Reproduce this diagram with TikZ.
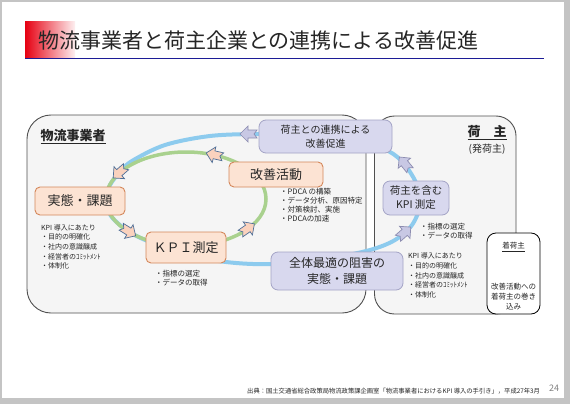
\documentclass[tikz,border=0pt]{standalone}
\usepackage{fontspec}
\setmainfont{Noto Sans CJK JP}
\definecolor{peachF}{HTML}{FCE3D3}
\definecolor{peachD}{HTML}{D4875A}
\definecolor{lavF}{HTML}{D8D8EE}
\definecolor{lavD}{HTML}{A4A4C6}
\definecolor{arrF}{HTML}{FAD2BE}
\definecolor{arrD}{HTML}{4F6F98}
\definecolor{barrF}{HTML}{C8C8E4}
\definecolor{barrD}{HTML}{8C8CB0}
\definecolor{greenL}{HTML}{A9D18E}
\definecolor{blueL}{HTML}{8DCBEE}
\definecolor{panelF}{HTML}{F5F5F5}
\definecolor{panelD}{HTML}{505050}
\definecolor{titleBlue}{HTML}{1C1C96}
\definecolor{titleRed}{HTML}{E60012}
\definecolor{frameG}{HTML}{C4C4C4}
\definecolor{txt}{HTML}{262626}
\tikzset{
  flowarrow/.pic={\filldraw[line width=0.7pt, pic actions] (-8,4) -- (1,4) -- (1,8) -- (9,0) -- (1,-8) -- (1,-4) -- (-8,-4) -- (-5,0) -- cycle;},
  panel/.style={draw=panelD, fill=panelF, line width=0.9pt, rounded corners=24pt, inner sep=0pt},
  obox/.style={draw=peachD, fill=peachF, line width=0.9pt, rounded corners=5pt, inner sep=0pt, text=txt},
  lbox/.style={draw=lavD, fill=lavF, line width=0.8pt, rounded corners=7pt, inner sep=0pt, align=center, text=txt},
  lbl/.style={inner sep=0pt, text=txt},
  lst/.style={inner sep=0pt, text=txt, align=left, anchor=north west},
}
\begin{document}
\begin{tikzpicture}[x=1pt, y=-1pt]
\useasboundingbox (0,0) rectangle (570,404);
% slide frame
\fill[frameG] (0,0) rectangle (570,404);
\fill[white] (2,2) rectangle (564,398);
% title
\shade[left color=titleRed, right color=titleRed!6] (25,22) rectangle (75,58);
\node[lbl, anchor=west, font=\fontsize{21}{24}\selectfont] (title) at (38,41) {物流事業者と荷主企業との連携による改善促進};
\coordinate (ulL) at (25,58.5);
\coordinate (ulR) at (544,58.5);
\draw[titleBlue, line width=1.5pt] (ulL) -- (ulR);
% panels
\node[panel, minimum width=339pt, minimum height=198pt] (lpanel) at (196.5,214) {};
\node[panel, rounded corners=20pt, minimum width=141.5pt, minimum height=198pt] (rpanel) at (445.25,215) {};
% blue cycle
\draw[blueL, line width=4pt] plot[smooth cycle, tension=0.55] coordinates {
 (300,135) (258,134) (210,136) (165,145) (132,161) (120,172) (110,185) (106,199)
 (111,216) (128,231) (150,242) (186,254) (226,262) (272,264) (330,258) (370,250)
 (395,240) (412,225) (420,205) (417,185) (405,165) (390,152) (360,140)};
% green cycle
\draw[greenL, line width=3.5pt] (186,199) ellipse [x radius=80, y radius=47];
% arrows on the green cycle
\pic[fill=arrF, draw=arrD, rotate=167] at (215,155) {flowarrow};
\pic[fill=arrF, draw=arrD, rotate=221] at (120,172) {flowarrow};
\pic[fill=arrF, draw=arrD, rotate=-32] at (128,231) {flowarrow};
\pic[fill=arrF, draw=arrD, rotate=35] at (247,229) {flowarrow};
% arrows on the blue cycle
\pic[fill=barrF, draw=barrD, rotate=180] at (249,134) {flowarrow};
\pic[fill=barrF, draw=barrD, rotate=129] at (405,164) {flowarrow};
\pic[fill=barrF, draw=barrD, rotate=41] at (404,233) {flowarrow};
% boxes
\node[obox, minimum width=90pt, minimum height=28pt, font=\fontsize{13}{15}\selectfont] (jittai) at (80,201) {実態・課題};
\node[obox, minimum width=94pt, minimum height=25pt, font=\fontsize{13}{15}\selectfont] (kaizen) at (276,174.5) {改善活動};
\node[obox, minimum width=80pt, minimum height=31pt, font=\fontsize{13}{15}\selectfont] (kpi) at (186,247.5) {ＫＰＩ測定};
\node[lbox, minimum width=133pt, minimum height=33pt, font=\fontsize{10}{14}\selectfont] (renkei) at (325.5,136.5) {荷主との連携による\\改善促進};
\node[lbox, minimum width=132pt, minimum height=38pt, font=\fontsize{12}{16}\selectfont] (zentai) at (337,271) {全体最適の阻害の\\実態・課題};
\node[lbox, minimum width=66pt, minimum height=34pt, font=\fontsize{10.5}{14}\selectfont] (ninushikpi) at (416,198) {荷主を含む\\KPI 測定};
\node[draw=black, fill=white, line width=0.8pt, rounded corners=9pt, minimum width=53pt, minimum height=81pt, inner sep=0pt] (chaku) at (513.5,273.5) {};
% labels
\node[lbl, font=\fontsize{13}{15}\selectfont\bfseries] (butsuryu) at (73,137) {\underline{物流事業者}};
\node[lbl, font=\fontsize{13}{15}\selectfont\bfseries] (ninushi) at (487,133) {\underline{荷　主}};
\node[lbl, font=\fontsize{10}{12}\selectfont] (hatsu) at (487,149) {(発荷主)};
\node[lbl, font=\fontsize{7.5}{9}\selectfont] (chakulbl) at (513.5,247) {\underline{着荷主}};
\node[lbl, align=center, font=\fontsize{7.5}{10}\selectfont] (chakutxt) at (513.5,297) {改善活動への\\着荷主の巻き\\込み};
% lists
\node[lst, font=\fontsize{7}{9.7}\selectfont] (llist) at (41,224) {KPI 導入にあたり\\・目的の明確化\\・社内の意識醸成\\・経営者のｺﾐｯﾄﾒﾝﾄ\\・体制化};
\node[lst, font=\fontsize{7.5}{9}\selectfont] (klist) at (280,187.5) {・PDCA の構築\\・データ分析、原因特定\\・対策検討、実施\\・PDCAの加速};
\node[lst, font=\fontsize{7.5}{9}\selectfont] (plist) at (155,270) {・指標の選定\\・データの取得};
\node[lst, font=\fontsize{7.5}{9}\selectfont] (nlist1) at (420,222.5) {・指標の選定\\・データの取得};
\node[lst, font=\fontsize{7}{9.8}\selectfont] (nlist2) at (408,252.5) {KPI 導入にあたり\\・目的の明確化\\・社内の意識醸成\\・経営者のｺﾐｯﾄﾒﾝﾄ\\・体制化};
% footer
\node[lbl, anchor=west, font=\fontsize{6.3}{7}\selectfont] (source) at (247,391) {出典：国土交通省総合政策局物流政策課企画室「物流事業者におけるKPI 導入の手引き」，平成27年3月};
\node[lbl, text=gray, font=\fontsize{9}{10}\selectfont] (page) at (554,388) {24};
\end{tikzpicture}
\end{document}
